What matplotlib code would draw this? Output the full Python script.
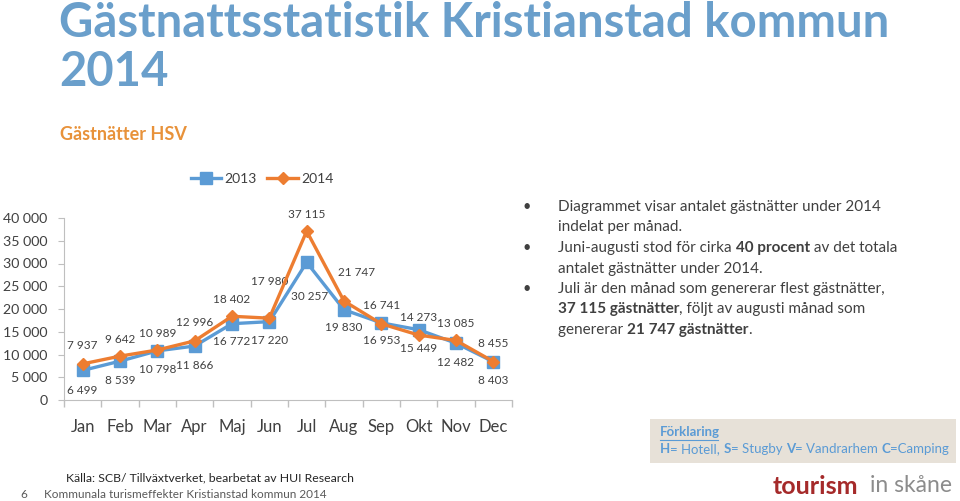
import matplotlib
matplotlib.use("Agg")
import matplotlib.pyplot as plt
from matplotlib.patches import Rectangle
from matplotlib.lines import Line2D

plt.rcParams['font.family'] = ['Lato', 'DejaVu Sans']

# data
months = ['Jan', 'Feb', 'Mar', 'Apr', 'Maj', 'Jun', 'Jul', 'Aug', 'Sep', 'Okt', 'Nov', 'Dec']
nights_2013 = [6499, 8539, 10798, 11866, 16772, 17220, 30257, 19830, 16953, 15449, 12482, 8403]
nights_2014 = [7937, 9642, 10989, 12996, 18402, 17980, 37115, 21747, 16741, 14273, 13085, 8455]
y_ticks = [0, 5000, 10000, 15000, 20000, 25000, 30000, 35000, 40000]

# label offsets in pixels (x, y) relative to the point
off_2013 = [(0, -20), (0, -19), (0, -19), (0, -19), (0, -18), (0, -19), (3, -34),
            (0, -18), (0, -18), (0, -19), (0, -19), (0, -19)]
off_2014 = [(0, 18), (0, 17), (0, 17), (0, 18), (0, 17), (0, 37), (0, 17),
            (13, 29), (0, 18), (0, 18), (0, 17), (0, 18)]

blue = '#5B9BD5'
orange = '#ED7D31'
txt_gray = '#404040'


def fmt(v):
    return f"{v:,}".replace(",", " ")


fig = plt.figure(figsize=(9.6, 5.01), dpi=100)
fig.patch.set_facecolor('white')

# titles
fig.text(59 / 960, 1 - 37 / 501, 'Gästnattsstatistik Kristianstad kommun', fontsize=34,
         fontweight='bold', color='#6A9FCB', va='baseline', ha='left')
fig.text(59 / 960, 1 - 86 / 501, '2014', fontsize=34, fontweight='bold', color='#6A9FCB',
         va='baseline', ha='left')
fig.text(60 / 960, 1 - 140 / 501, 'Gästnätter HSV', fontsize=13, fontweight='bold',
         color='#E8923A', va='baseline', ha='left')

# chart
ax = fig.add_axes([64 / 960, 1 - 400 / 501, 448 / 960, 182 / 501])
x = list(range(len(months)))
ax.plot(x, nights_2013, color=blue, lw=2.4, marker='s', ms=8, label='2013', zorder=3)
ax.plot(x, nights_2014, color=orange, lw=2.4, marker='D', ms=6.5, label='2014', zorder=4)

for i in x:
    ax.annotate(fmt(nights_2013[i]), (i, nights_2013[i]), xytext=off_2013[i],
                textcoords='offset pixels', ha='center', va='center', fontsize=8.5, color=txt_gray)
    ax.annotate(fmt(nights_2014[i]), (i, nights_2014[i]), xytext=off_2014[i],
                textcoords='offset pixels', ha='center', va='center', fontsize=8.5, color=txt_gray)

ax.set_xlim(-0.5, len(months) - 0.5)
ax.set_ylim(0, 40000)
ax.set_yticks(y_ticks)
ax.set_yticklabels([fmt(v) for v in y_ticks])
ax.set_xticks(x)
ax.set_xticklabels(months)
ax.set_xticks([i - 0.5 for i in range(len(months) + 1)], minor=True)
ax.tick_params(axis='x', which='major', length=0, pad=14, labelsize=12, labelcolor=txt_gray)
ax.tick_params(axis='x', which='minor', length=5, color='#BFBFBF', width=1)
ax.tick_params(axis='y', length=4, color='#BFBFBF', pad=8, labelsize=10.2, labelcolor=txt_gray)
for s in ['top', 'right']:
    ax.spines[s].set_visible(False)
for s in ['left', 'bottom']:
    ax.spines[s].set_color('#BFBFBF')
ax.set_facecolor('none')

fig.legend(handles=[Line2D([], [], color=blue, lw=2.4, marker='s', ms=8),
                    Line2D([], [], color=orange, lw=2.4, marker='D', ms=6.5)],
           labels=['2013', '2014'], loc='center', bbox_to_anchor=(262 / 960, 1 - 179 / 501),
           ncol=2, frameon=False, fontsize=10, handlelength=2.2, columnspacing=0.8,
           handletextpad=0.2, labelcolor=txt_gray)

# bullet text with bold segments
renderer = fig.canvas.get_renderer()
bullet_lines = [
    [('Diagrammet visar antalet gästnätter under 2014', False)],
    [('indelat per månad.', False)],
    [('Juni-augusti stod för cirka ', False), ('40 procent', True), (' av det totala', False)],
    [('antalet gästnätter under 2014.', False)],
    [('Juli är den månad som genererar flest gästnätter,', False)],
    [('37 115 gästnätter', True), (', följt av augusti månad som', False)],
    [('genererar ', False), ('21 747 gästnätter', True), ('.', False)],
]
bullet_rows = [0, 2, 4]
y0 = 207
for row, parts in enumerate(bullet_lines):
    ypix = y0 + row * 20.5
    if row in bullet_rows:
        fig.text(523 / 960, 1 - ypix / 501, '•', fontsize=10.5, color=txt_gray, va='center')
    xpix = 558
    for s, bold in parts:
        t = fig.text(xpix / 960, 1 - ypix / 501, s, fontsize=11, color=txt_gray, va='center',
                     fontweight='bold' if bold else 'normal')
        bb = t.get_window_extent(renderer=renderer)
        xpix += bb.width

# explanation box
fig.patches.append(Rectangle((650 / 960, 1 - 463 / 501), 306 / 960, 44 / 501,
                             transform=fig.transFigure, facecolor='#E7E1D8', edgecolor='none'))
fig.text(660 / 960, 1 - 432 / 501, 'Förklaring', fontsize=9.5, fontweight='bold',
         color='#5B9BD5', va='center')
fig.lines.append(Line2D([660 / 960, 718 / 960], [1 - 440 / 501, 1 - 440 / 501],
                        transform=fig.transFigure, color='#5B9BD5', lw=0.8))
expl = [('H', True), ('= Hotell, ', False), ('S', True), ('= Stugby ', False), ('V', True),
        ('= Vandrarhem ', False), ('C', True), ('=Camping', False)]
xpix = 660
for s, bold in expl:
    t = fig.text(xpix / 960, 1 - 449 / 501, s, fontsize=9.5, color='#5B9BD5', va='center',
                 fontweight='bold' if bold else 'normal')
    xpix += t.get_window_extent(renderer=renderer).width

# logo text
fig.text(773 / 960, 1 - 486 / 501, 'tourism', fontsize=18, fontweight='bold',
         color='#A52A2A', va='center')
fig.text(952 / 960, 1 - 486 / 501, 'in skåne', fontsize=16.5, color='#8C8C8C',
         va='center', ha='right')

# footer
fig.text(66 / 960, 1 - 478 / 501, 'Källa: SCB/ Tillväxtverket, bearbetat av HUI Research',
         fontsize=8.8, color='#262626', va='center')
fig.text(20 / 960, 1 - 494 / 501, '6', fontsize=8.5, color='#595959', va='center')
fig.text(44 / 960, 1 - 494 / 501, 'Kommunala turismeffekter Kristianstad kommun 2014',
         fontsize=8.5, color='#595959', va='center')

fig.savefig('out.png', dpi=100)
